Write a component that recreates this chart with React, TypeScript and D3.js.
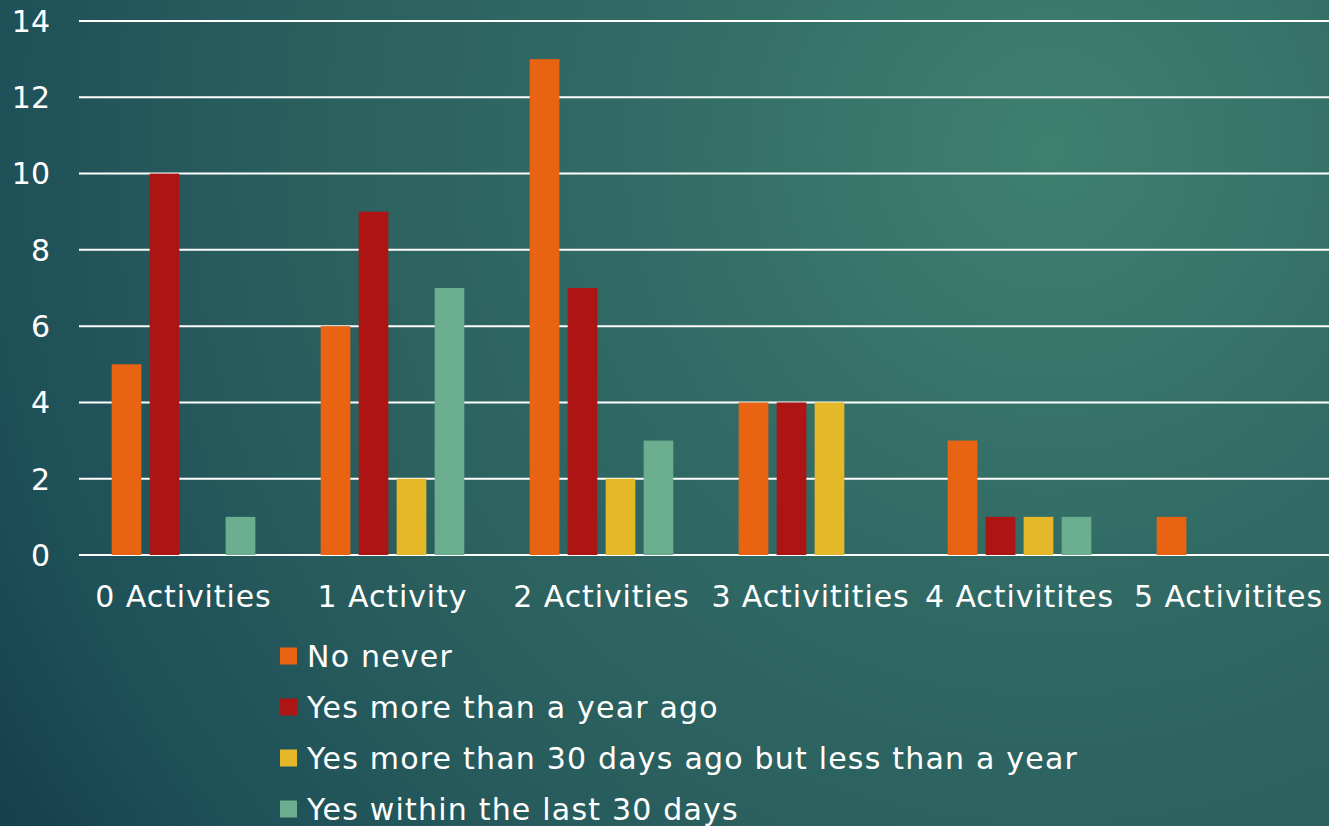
import React from 'react'
import * as d3 from 'd3'

// chart data
const categories = ['0 Activities', '1 Activity', '2 Activities', '3 Activitities', '4 Activitites', '5 Activitites']
const seriesNames = ['No never', 'Yes more than a year ago', 'Yes more than 30 days ago but less than a year', 'Yes within the last 30 days']
const noNever = [5, 6, 13, 4, 3, 1]
const moreThanYear = [10, 9, 7, 4, 1, 0]
const moreThan30Days = [0, 2, 2, 4, 1, 0]
const within30Days = [1, 7, 3, 0, 1, 0]
const seriesValues = [noNever, moreThanYear, moreThan30Days, within30Days]
const colors = ['#E86412', '#AD1515', '#E5B829', '#6AAE8F']
const yTicks = [0, 2, 4, 6, 8, 10, 12, 14]

const W = 1329
const H = 826
const font = '"DejaVu Sans", Verdana, sans-serif'

export default function App() {
  /* scales */
  const x = d3.scaleBand<string>().domain(categories).range([79, 1333]).padding(0)
  const xInner = d3.scaleBand<string>()
    .domain(seriesNames)
    .range([0, x.bandwidth()])
    .paddingInner(0.218)
    .paddingOuter(0.86)
  const y = d3.scaleLinear().domain([0, 14]).range([555, 21])

  return (
    <svg width={W} height={H} style={{ position: 'absolute', left: 0, top: 0, display: 'block' }}>
      <defs>
        <radialGradient id="bg" gradientUnits="userSpaceOnUse" cx={1050} cy={150} r={1250}>
          <stop offset="0" stopColor="#3f806f" />
          <stop offset="0.35" stopColor="#316a65" />
          <stop offset="0.6" stopColor="#2a5f5e" />
          <stop offset="0.85" stopColor="#1e5058" />
          <stop offset="1" stopColor="#153f4c" />
        </radialGradient>
      </defs>
      <rect width={W} height={H} fill="url(#bg)" />

      {/* gridlines */}
      {yTicks.map(t => (
        <line key={t} x1={79} x2={W} y1={y(t)} y2={y(t)} stroke="#ffffff" strokeWidth={2} />
      ))}

      {/* y axis labels */}
      {yTicks.map(t => (
        <text key={'l' + t} x={50} y={y(t)} dy="0.36em" textAnchor="end" fill="#fff"
          fontFamily={font} fontSize={30}>{t}</text>
      ))}

      {/* bars */}
      {categories.map((c, ci) => (
        <g key={c} transform={`translate(${x(c)},0)`}>
          {seriesNames.map((s, si) => {
            const v = seriesValues[si][ci]
            if (!v) return null
            return (
              <rect key={s} x={xInner(s)} y={y(v)} width={xInner.bandwidth()}
                height={y(0) - y(v)} fill={colors[si]} />
            )
          })}
        </g>
      ))}

      {/* category labels */}
      {categories.map(c => (
        <text key={'c' + c} x={(x(c) as number) + x.bandwidth() / 2} y={607} textAnchor="middle"
          fill="#fff" fontFamily={font} fontSize={30} letterSpacing={0.9}>{c}</text>
      ))}

      {/* legend */}
      {seriesNames.map((s, i) => (
        <g key={'lg' + s} transform={`translate(280, ${656 + i * 51})`}>
          <rect x={0} y={-8.5} width={17} height={17} fill={colors[i]} />
          <text x={27} y={0} dy="0.36em" fill="#fff" fontFamily={font} fontSize={30} letterSpacing={1.2}>{s}</text>
        </g>
      ))}
    </svg>
  )
}
